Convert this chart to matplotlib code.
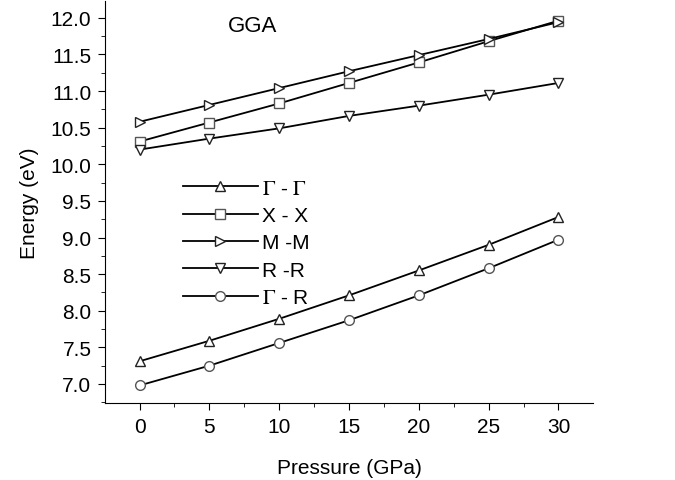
import numpy as np
import matplotlib.pyplot as plt
from matplotlib.ticker import MultipleLocator

plt.rcParams['font.family'] = ['Liberation Sans', 'DejaVu Sans']
plt.rcParams['mathtext.fontset'] = 'stix'

pressure = [0, 5, 10, 15, 20, 25, 30]
gamma_gamma = [7.31, 7.59, 7.89, 8.21, 8.55, 8.90, 9.28]
x_x = [10.31, 10.57, 10.83, 11.11, 11.39, 11.68, 11.96]
m_m = [10.58, 10.81, 11.04, 11.27, 11.49, 11.71, 11.94]
r_r = [10.20, 10.35, 10.49, 10.66, 10.80, 10.95, 11.11]
gamma_r = [6.98, 7.25, 7.56, 7.87, 8.21, 8.58, 8.97]

labels = [r'$\Gamma$ - $\Gamma$', 'X - X', 'M -M', 'R -R', r'$\Gamma$ - R']
series = [gamma_gamma, x_x, m_m, r_r, gamma_r]
markers = ['^', 's', '>', 'v', 'o']
edges = ['#222222', '#555555', '#222222', '#222222', '#555555']

fig = plt.figure(figsize=(6.75, 4.81), dpi=100)
ax = fig.add_axes([0.156, 0.160, 0.722, 0.836])

for y, lab, mk, ec in zip(series, labels, markers, edges):
    ax.plot(pressure, y, color='k', lw=1.3, marker=mk, markersize=7,
            mfc='white', mec=ec, mew=1.0, label=lab)

ax.set_xlim(-2.45, 32.45)
ax.set_ylim(6.74, 12.23)
ax.xaxis.set_major_locator(MultipleLocator(5))
ax.xaxis.set_minor_locator(MultipleLocator(2.5))
ax.yaxis.set_major_locator(MultipleLocator(0.5))
ax.yaxis.set_minor_locator(MultipleLocator(0.25))
ax.yaxis.set_major_formatter(plt.FormatStrFormatter('%.1f'))

for s in ['top', 'right']:
    ax.spines[s].set_visible(False)
ax.tick_params(which='major', direction='out', length=5, labelsize=15, pad=5)
ax.tick_params(which='minor', direction='out', length=3)

ax.set_xlabel('Pressure (GPa)', fontsize=15, labelpad=16)
ax.set_ylabel('Energy (eV)', fontsize=15, labelpad=8)

ax.text(8.1, 11.89, 'GGA', fontsize=16, ha='center', va='center')

ax.legend(loc='upper left', bbox_to_anchor=(0.12, 0.605), frameon=False,
          fontsize=15, handlelength=3.6, labelspacing=0.4, handletextpad=0.2)

fig.savefig('out.png', dpi=100)
